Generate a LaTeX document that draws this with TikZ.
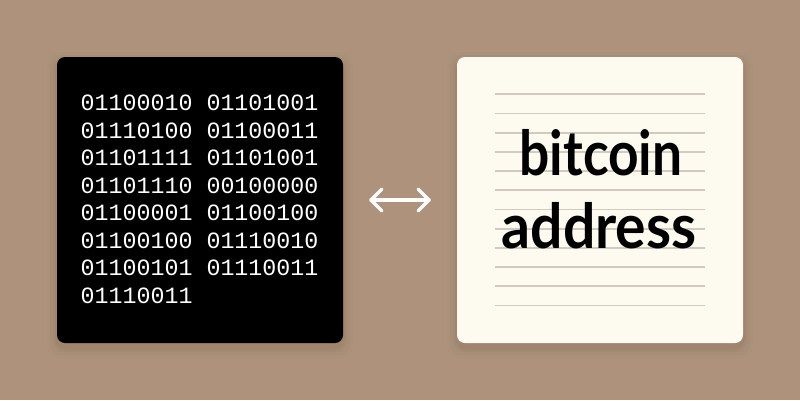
\documentclass[tikz,border=0pt]{standalone}
\usepackage{fontspec}
\newfontfamily\monofont{Liberation Mono}
\newfontfamily\handfont{Lato}
\definecolor{bg}{RGB}{174,146,124}
\definecolor{cream}{RGB}{253,251,239}
\definecolor{ruling}{RGB}{208,203,190}
\definecolor{shadowc}{RGB}{120,95,75}
\tikzset{
  card/.style={rounded corners=8pt, minimum width=286pt, minimum height=286pt, inner sep=0pt},
  bits/.style={anchor=base west, inner sep=0pt, text=white, font=\monofont\fontsize{23.3}{27.5}\selectfont},
  hand/.style={anchor=base, inner sep=0pt, text=black, font=\handfont\bfseries\fontsize{62}{70}\selectfont},
  ruleline/.style={draw=ruling, line width=1.8pt},
  swap/.style={draw=white, line width=3.5pt, line cap=round, line join=round}
}
\begin{document}
\begin{tikzpicture}[x=1pt,y=-1pt]
\useasboundingbox (0,0) rectangle (800,400);
\fill[bg] (0,0) rectangle (800,400);
% shadows
\foreach \s/\o in {10/0.04,7/0.06,4/0.08,2/0.1}{
  \fill[shadowc, opacity=\o, rounded corners=12pt] (457-\s,57-\s+5) rectangle (743+\s,343+\s+5);
  \fill[shadowc, opacity=\o, rounded corners=12pt] (57-\s,57-\s+5) rectangle (343+\s,343+\s+5);
}
\node[card, fill=black] (bin) at (200,200) {};
\node[card, fill=cream] (note) at (600,200) {};
% binary text
\foreach \t [count=\i] in {01100010 01101001,01110100 01100011,01101111 01101001,01101110 00100000,01100001 01100100,01100100 01110010,01100101 01110011,01110011}{
  \node[bits] (b\i) at (80.5,{110.8+27.5*(\i-1)}) {\t};
}
% ruled lines
\foreach \i in {0,...,11}{
  \draw[ruleline] (495,{94.3+19.2*\i}) coordinate (l\i a) -- (705,{94.3+19.2*\i}) coordinate (l\i b);
}
\node[hand, xscale=0.86] (w1) at (601,175) {bitcoin};
\node[hand, xscale=0.92] (w2) at (599,248) {address};
% double arrow
\coordinate (al) at (371,200);
\coordinate (ar) at (429,200);
\draw[swap] (al) -- (ar);
\draw[swap] ([shift={(11,-11)}]al) -- (al) -- ([shift={(11,11)}]al);
\draw[swap] ([shift={(-11,-11)}]ar) -- (ar) -- ([shift={(-11,11)}]ar);
\end{tikzpicture}
\end{document}
